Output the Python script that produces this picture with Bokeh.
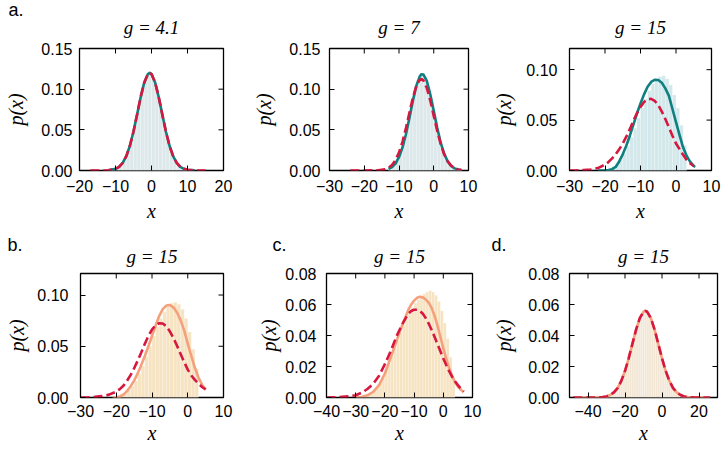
import math
from bokeh.plotting import figure
from bokeh.layouts import column, row
from bokeh.models import FixedTicker, Range1d, Title
from bokeh.embed import file_html
from bokeh.resources import INLINE

# ---------------- data ----------------
# panel a (g = 4.1)
a_hist_x = [-10.5, -9.5, -8.5, -7.5, -6.5, -5.5, -4.5, -3.5, -2.5, -1.5, -0.5, 0.5, 1.5, 2.5, 3.5, 4.5, 5.5, 6.5, 7.5, 8.5, 9.5]
a_hist_y = [0.0013, 0.003, 0.0066, 0.013, 0.0234, 0.0386, 0.0581, 0.0798, 0.1001, 0.1147, 0.1185, 0.1147, 0.1001, 0.0798, 0.0581, 0.0386, 0.0234, 0.013, 0.0066, 0.003, 0.0013]
a_solid_x = [-12, -10, -9, -8, -7, -6, -5, -4, -3, -2, -1, -0.5, 0, 1, 2, 3, 4, 5, 6, 7, 8, 9, 10, 12]
a_solid_y = [0.0003, 0.002, 0.0045, 0.0094, 0.0177, 0.0304, 0.0479, 0.0688, 0.0904, 0.1083, 0.1186, 0.12, 0.1186, 0.1083, 0.0904, 0.0688, 0.0479, 0.0304, 0.0177, 0.0094, 0.0045, 0.002, 0.0008, 0.0001]
a_dash_x = [-17, -14, -12, -10, -9, -8, -7, -6, -5, -4, -3, -2, -1, -0.5, 0, 1, 2, 3, 4, 5, 6, 7, 8, 9, 10, 12, 14, 16]
a_dash_y = [0.0, 0.0, 0.0003, 0.002, 0.0045, 0.0094, 0.0177, 0.0304, 0.0479, 0.0688, 0.0904, 0.1083, 0.1186, 0.12, 0.1186, 0.1083, 0.0904, 0.0688, 0.0479, 0.0304, 0.0177, 0.0094, 0.0045, 0.002, 0.0008, 0.0001, 0.0, 0.0]

# panel g = 7
g7_hist_x = [-12.5, -11.5, -10.5, -9.5, -8.5, -7.5, -6.5, -5.5, -4.5, -3.5, -2.5, -1.5, -0.5, 0.5, 1.5, 2.5, 3.5, 4.5, 5.5, 6.5, 7.5]
g7_hist_y = [0.0028, 0.006, 0.012, 0.0216, 0.0359, 0.0543, 0.0754, 0.0957, 0.1113, 0.1184, 0.1153, 0.1028, 0.0838, 0.0626, 0.0428, 0.0268, 0.0153, 0.008, 0.0039, 0.0017, 0.0006]
g7_solid_x = [-13, -12, -11, -10, -9, -8, -7, -6, -5, -4, -3.5, -3, -2, -1, 0, 1, 2, 3, 4, 5, 6, 7, 8]
g7_solid_y = [0.0019, 0.0042, 0.0086, 0.0163, 0.0282, 0.0446, 0.0647, 0.0859, 0.1044, 0.116, 0.1184, 0.1181, 0.1101, 0.0938, 0.0733, 0.0524, 0.0342, 0.0205, 0.0112, 0.0056, 0.0026, 0.0011, 0.0004]
g7_dash_x = [-24, -20, -16, -14, -13, -12, -11, -10, -9, -8, -7, -6, -5, -4, -3.5, -3, -2, -1, 0, 1, 2, 3, 4, 5, 6, 7, 8]
g7_dash_y = [0.0, 0.0, 0.0003, 0.0015, 0.0034, 0.0068, 0.0128, 0.0221, 0.0353, 0.0521, 0.071, 0.0894, 0.104, 0.1117, 0.1124, 0.1108, 0.1015, 0.086, 0.0672, 0.0485, 0.0324, 0.02, 0.0114, 0.006, 0.0029, 0.0013, 0.0005]

# panel g = 15 (top row)
t15_hist_x = [-19.5, -18.5, -17.5, -16.5, -15.5, -14.5, -13.5, -12.5, -11.5, -10.5, -9.5, -8.5, -7.5, -6.5, -5.5, -4.5, -3.5, -2.5, -1.5, -0.5, 0.5, 1.5, 2.5]
t15_hist_y = [0.001, 0.002, 0.004, 0.007, 0.011, 0.017, 0.024, 0.033, 0.042, 0.052, 0.062, 0.071, 0.079, 0.086, 0.090, 0.093, 0.094, 0.091, 0.085, 0.075, 0.062, 0.045, 0.025]
t15_solid_x = [-22, -20, -19, -18, -17, -16, -15, -14, -13, -12, -11, -10, -9, -8, -7, -6, -5, -4, -3, -2, -1, 0, 1, 2, 3, 4, 5, 5.4]
t15_solid_y = [0.0, 0.0002, 0.0005, 0.0013, 0.0035, 0.009, 0.016, 0.0245, 0.0345, 0.0455, 0.0565, 0.0665, 0.0755, 0.083, 0.0878, 0.09, 0.0897, 0.087, 0.0815, 0.074, 0.061, 0.048, 0.035, 0.023, 0.0145, 0.0085, 0.0045, 0.0035]
t15_dash_x = [-30, -28, -26, -24, -22, -20, -19, -18, -17, -16, -15, -14, -13, -12, -11, -10, -9, -8, -7, -6, -5, -4, -3, -2, -1, 0, 1, 2, 3, 4, 5]
t15_dash_y = [0.0, 0.0002, 0.0005, 0.001, 0.0024, 0.0058, 0.0085, 0.012, 0.016, 0.021, 0.0268, 0.0335, 0.041, 0.0495, 0.0568, 0.063, 0.068, 0.0708, 0.071, 0.069, 0.0648, 0.0585, 0.051, 0.0428, 0.0345, 0.0268, 0.0212, 0.0155, 0.0105, 0.007, 0.0045]

# panel b
b_hist_x = [-19.5, -18.5, -17.5, -16.5, -15.5, -14.5, -13.5, -12.5, -11.5, -10.5, -9.5, -8.5, -7.5, -6.5, -5.5, -4.5, -3.5, -2.5, -1.5, -0.5, 0.5, 1.5, 2.5]
b_hist_y = [0.001, 0.002, 0.004, 0.007, 0.011, 0.016, 0.023, 0.031, 0.040, 0.050, 0.060, 0.069, 0.077, 0.084, 0.089, 0.092, 0.093, 0.091, 0.086, 0.077, 0.064, 0.047, 0.028]
b_solid_x = [-21, -20, -19, -18, -17, -16, -15, -14, -13, -12, -11, -10, -9, -8, -7, -6, -5, -4, -3, -2, -1, 0, 1, 2, 3, 4, 5]
b_solid_y = [0.0, 0.0003, 0.001, 0.0028, 0.0062, 0.0108, 0.0165, 0.0235, 0.0318, 0.0405, 0.05, 0.06, 0.07, 0.0795, 0.0862, 0.0897, 0.0902, 0.088, 0.083, 0.0755, 0.0655, 0.0525, 0.0405, 0.029, 0.0195, 0.0125, 0.008]
b_dash_x = [-30, -28, -26, -24, -22, -20, -19, -18, -17, -16, -15, -14, -13, -12, -11, -10, -9, -8, -7, -6, -5, -4, -3, -2, -1, 0, 1, 2, 3, 4, 5]
b_dash_y = [0.0, 0.0002, 0.0006, 0.0013, 0.0028, 0.0058, 0.0082, 0.0115, 0.0162, 0.0218, 0.0285, 0.036, 0.044, 0.0525, 0.06, 0.0662, 0.0705, 0.0725, 0.0722, 0.0695, 0.0645, 0.058, 0.0505, 0.0425, 0.0345, 0.0272, 0.0215, 0.0172, 0.0136, 0.0103, 0.0078]

# panel c
c_hist_x = [-26.5, -25.5, -24.5, -23.5, -22.5, -21.5, -20.5, -19.5, -18.5, -17.5, -16.5, -15.5, -14.5, -13.5, -12.5, -11.5, -10.5, -9.5, -8.5, -7.5, -6.5, -5.5, -4.5, -3.5, -2.5, -1.5, -0.5, 0.5, 1.5, 2.5, 3.5]
c_hist_y = [0.001, 0.002, 0.003, 0.005, 0.007, 0.010, 0.014, 0.018, 0.022, 0.027, 0.032, 0.037, 0.042, 0.047, 0.051, 0.055, 0.058, 0.061, 0.063, 0.065, 0.067, 0.068, 0.069, 0.068, 0.066, 0.062, 0.056, 0.048, 0.038, 0.026, 0.012]
c_solid_x = [-30, -28, -26, -24, -22, -20, -18, -16, -14, -12, -11, -10, -9, -8, -7, -6, -5, -4, -3, -2, -1, 0, 1, 2, 3, 4, 5, 6, 7]
c_solid_y = [0.0, 0.0003, 0.0014, 0.0036, 0.008, 0.0155, 0.0258, 0.0365, 0.047, 0.0565, 0.06, 0.0625, 0.0643, 0.065, 0.0646, 0.0632, 0.0612, 0.0578, 0.0528, 0.0465, 0.0392, 0.0318, 0.025, 0.019, 0.014, 0.01, 0.007, 0.005, 0.0035]
c_dash_x = [-40, -36, -32, -30, -28, -26, -24, -22, -20, -18, -16, -14, -12, -11, -10, -9, -8, -7, -6, -5, -4, -3, -2, -1, 0, 1, 2, 3, 4, 5, 6, 7]
c_dash_y = [0.0, 0.0002, 0.0008, 0.0015, 0.003, 0.0055, 0.0088, 0.014, 0.0215, 0.03, 0.0395, 0.0475, 0.054, 0.0558, 0.0566, 0.0566, 0.0558, 0.054, 0.0512, 0.0477, 0.0436, 0.0392, 0.0345, 0.0298, 0.0252, 0.021, 0.017, 0.0135, 0.0105, 0.008, 0.0057, 0.0038]

# panel d
d_hist_x = [-30, -29, -28, -27, -26, -25, -24, -23, -22, -21, -20, -19, -18, -17, -16, -15, -14, -13, -12, -11, -10, -9, -8, -7, -6, -5, -4, -3, -2, -1, 0, 1, 2, 3, 4, 5, 6, 7, 8, 9, 10, 11, 12]
d_hist_y = [0.0007, 0.0011, 0.0016, 0.0023, 0.0033, 0.0045, 0.0062, 0.0082, 0.0107, 0.0136, 0.0171, 0.021, 0.0253, 0.0299, 0.0346, 0.0393, 0.0438, 0.0478, 0.0512, 0.0538, 0.0554, 0.0559, 0.0554, 0.0538, 0.0512, 0.0478, 0.0438, 0.0393, 0.0346, 0.0299, 0.0253, 0.021, 0.0171, 0.0136, 0.0107, 0.0082, 0.0062, 0.0045, 0.0033, 0.0023, 0.0016, 0.0011, 0.0007]
d_curve_x = [-48, -44, -40, -36, -32, -30, -28, -26, -24, -22, -20, -18, -16, -14, -12, -10, -9, -8, -6, -4, -2, 0, 2, 4, 6, 8, 10, 12, 14, 18, 22, 26]
d_curve_y = [0.0, 0.0, 0.0, 0.0, 0.0003, 0.0007, 0.0016, 0.0033, 0.0061, 0.0107, 0.0171, 0.0253, 0.0346, 0.0438, 0.0512, 0.0553, 0.0559, 0.0553, 0.0512, 0.0438, 0.0346, 0.0253, 0.0171, 0.0107, 0.0061, 0.0033, 0.0016, 0.0007, 0.0003, 0.0, 0.0, 0.0]

# ticks and labels
ticks_x_a = [-20, -10, 0, 10, 20]
labels_x_a = ["\u221220", "\u221210", "0", "10", "20"]
ticks_x_30 = [-30, -20, -10, 0, 10]
labels_x_30 = ["\u221230", "\u221220", "\u221210", "0", "10"]
ticks_x_40 = [-40, -30, -20, -10, 0, 10]
labels_x_40 = ["\u221240", "\u221230", "\u221220", "\u221210", "0", "10"]
ticks_x_d = [-40, -20, 0, 20]
labels_x_d = ["\u221240", "\u221220", "0", "20"]
ticks_y_15 = [0.0, 0.05, 0.10, 0.15]
labels_y_15 = ["0.00", "0.05", "0.10", "0.15"]
ticks_y_10 = [0.0, 0.05, 0.10]
labels_y_10 = ["0.00", "0.05", "0.10"]
ticks_y_08 = [0.0, 0.02, 0.04, 0.06, 0.08]
labels_y_08 = ["0.00", "0.02", "0.04", "0.06", "0.08"]

titles = ["g = 4.1", "g = 7", "g = 15", "g = 15", "g = 15", "g = 15"]
panel_letters = ["a.", "b.", "c.", "d."]

# ---------------- styling ----------------
TEAL = "#0f7f7f"
CRIMSON = "#d6173f"
SALMON = "#f5a07c"
HIST_GREY = "#dde8ea"
HIST_CYAN = "#d2e8eb"
HIST_WHEAT = "#f6e3c1"
HIST_WHEAT2 = "#f2e5d2"
TICK_FONT = "Liberation Sans"
MATH_FONT = "Liberation Serif"


def make_panel(title, hx, hy, bw, hcol, sx, sy, scol, dx, dy, xr, ytop, xt, xl, yt, yl,
               w, h, bl, br, bt, bb, title_standoff, y_ts, y_as, x_ts, x_as,
               letter=None, letter_offset=0, letter_standoff=0):
    p = figure(width=w, height=h, x_range=Range1d(*xr), y_range=Range1d(0, ytop),
               output_backend="svg", toolbar_location=None,
               min_border_left=bl, min_border_right=br, min_border_top=bt, min_border_bottom=bb)
    p.title.text = ""
    p.title_location = None
    p.grid.visible = False
    p.background_fill_color = "white"
    p.border_fill_color = "white"
    p.outline_line_color = "black"
    p.outline_line_width = 1.3
    p.outline_line_alpha = 1.0

    p.vbar(x=hx, top=hy, width=bw, fill_color=hcol, line_color="white", line_width=0.4, line_alpha=0.6)
    p.line(sx, sy, color=scol, line_width=2.6, line_join="round")
    p.line(dx, dy, color=CRIMSON, line_width=2.6, line_dash="9 4")

    # inward ticks on the top and right edges, at the axis tick positions
    p.ray(x=xt, y=[ytop] * len(xt), length=5, length_units="screen", angle=-math.pi / 2,
          line_color="black", line_width=1)
    p.ray(x=[xr[1]] * len(yt), y=yt, length=5, length_units="screen", angle=math.pi,
          line_color="black", line_width=1)

    p.add_layout(Title(text=title, text_font=MATH_FONT, text_font_style="italic",
                       text_font_size="19px", align="center", text_color="black",
                       standoff=title_standoff), "above")
    if letter is not None:
        p.add_layout(Title(text=letter, text_font=TICK_FONT, text_font_style="normal",
                           text_font_size="18px", align="left", offset=letter_offset,
                           text_color="black", standoff=letter_standoff), "above")

    xa = p.xaxis[0]
    ya = p.yaxis[0]
    xa.ticker = FixedTicker(ticks=xt)
    xa.major_label_overrides = dict(zip(xt, xl))
    ya.ticker = FixedTicker(ticks=yt)
    ya.major_label_overrides = dict(zip(yt, yl))
    xa.axis_label = "x"
    ya.axis_label = "p(x)"
    for ax in (xa, ya):
        ax.axis_line_color = None
        ax.major_tick_in = 5
        ax.major_tick_out = 0
        ax.major_tick_line_color = "black"
        ax.major_tick_line_width = 1
        ax.minor_tick_line_color = None
        ax.major_label_text_font = TICK_FONT
        ax.major_label_text_font_size = "16px"
        ax.major_label_text_color = "black"
        ax.axis_label_text_font = MATH_FONT
        ax.axis_label_text_font_style = "italic"
        ax.axis_label_text_font_size = "20px"
        ax.axis_label_text_color = "black"
    ya.major_label_standoff = y_ts
    ya.axis_label_standoff = y_as
    xa.major_label_standoff = x_ts
    xa.axis_label_standoff = x_as
    return p


pa = make_panel(titles[0], a_hist_x, a_hist_y, 1.0, HIST_GREY, a_solid_x, a_solid_y, TEAL,
                a_dash_x, a_dash_y, (-20, 20), 0.15, ticks_x_a, labels_x_a, ticks_y_15, labels_y_15,
                250, 227, 79, 27, 48, 57, 21, 7, 11, 9, 5, panel_letters[0], -71, -30)
p7 = make_panel(titles[1], g7_hist_x, g7_hist_y, 1.0, HIST_GREY, g7_solid_x, g7_solid_y, TEAL,
                g7_dash_x, g7_dash_y, (-30, 10), 0.15, ticks_x_30, labels_x_30, ticks_y_15, labels_y_15,
                240, 227, 72, 22, 48, 57, 21, 9, 11, 9, 5)
p15 = make_panel(titles[2], t15_hist_x, t15_hist_y, 1.0, HIST_CYAN, t15_solid_x, t15_solid_y, TEAL,
                 t15_dash_x, t15_dash_y, (-30, 10), 0.121, ticks_x_30, labels_x_30, ticks_y_10, labels_y_10,
                 232, 227, 76, 11, 48, 57, 21, 12, 8, 9, 5)
pb = make_panel(titles[3], b_hist_x, b_hist_y, 1.0, HIST_WHEAT, b_solid_x, b_solid_y, SALMON,
                b_dash_x, b_dash_y, (-30, 10), 0.121, ticks_x_30, labels_x_30, ticks_y_10, labels_y_10,
                250, 221, 80, 27, 46, 51, 14, 12, 6, 7, 2, panel_letters[1], -73, -36)
pc = make_panel(titles[4], c_hist_x, c_hist_y, 1.0, HIST_WHEAT, c_solid_x, c_solid_y, SALMON,
                c_dash_x, c_dash_y, (-40, 10), 0.08, ticks_x_40, labels_x_40, ticks_y_08, labels_y_08,
                240, 221, 76, 18, 46, 51, 14, 10, 2, 7, 2, panel_letters[2], -54, -36)
pd_ = make_panel(titles[5], d_hist_x, d_hist_y, 1.0, HIST_WHEAT2, d_curve_x, d_curve_y, SALMON,
                 d_curve_x, d_curve_y, (-50, 30), 0.08, ticks_x_d, labels_x_d, ticks_y_08, labels_y_08,
                 232, 221, 76, 5, 46, 51, 14, 10, 10, 7, 2, panel_letters[3], -78, -36)

layout = column(row(pa, p7, p15), row(pb, pc, pd_))
open("out.html", "w").write(file_html(layout, INLINE))
